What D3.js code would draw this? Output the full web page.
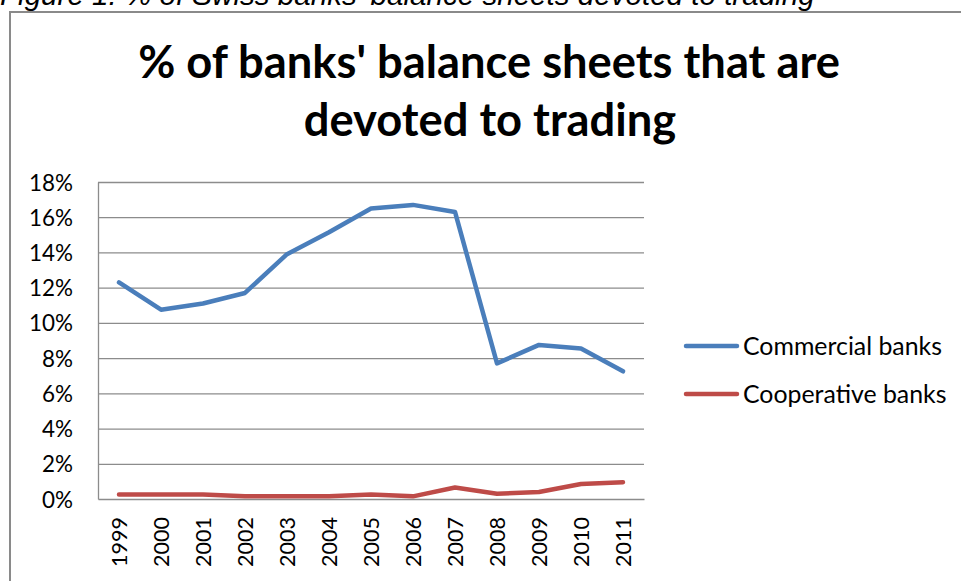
<!DOCTYPE html>
<html>
<head>
<meta charset="utf-8">
<script src="https://cdn.jsdelivr.net/npm/d3@7"></script>
<style>
  html, body { margin: 0; padding: 0; background: #fff; }
  svg { display: block; }
</style>
</head>
<body>
<svg id="chart" width="961" height="581"></svg>
<script>
// Share of balance sheets devoted to trading, by bank group
const years = ["1999","2000","2001","2002","2003","2004","2005","2006","2007","2008","2009","2010","2011"];
const commercialBanks = [12.3, 10.75, 11.1, 11.7, 13.9, 15.15, 16.5, 16.7, 16.3, 7.7, 8.75, 8.55, 7.25];
const cooperativeBanks = [0.25, 0.25, 0.25, 0.15, 0.15, 0.15, 0.25, 0.15, 0.65, 0.3, 0.4, 0.85, 0.95];
const yTicks = [0, 2, 4, 6, 8, 10, 12, 14, 16, 18];
const seriesNames = ["Commercial banks", "Cooperative banks"];
const seriesColors = ["#4A7EBB", "#BE4B48"];

const svg = d3.select("#chart");
const uiFont = "Lato, 'Open Sans', sans-serif";

// Set a text's font size so that it spans the given width; returns that size
function fitWidth(sel, width) {
  const node = sel.node();
  sel.attr("font-size", 100);
  const w = node.getComputedTextLength();
  const size = 100 * width / w;
  sel.attr("font-size", size);
  return size;
}

// Caption above the chart frame (partly cut off at the top edge)
const cap = svg.append("text")
  .attr("x", 0).attr("y", 5)
  .attr("font-family", "'Liberation Sans', Arial, sans-serif")
  .attr("font-style", "italic")
  .attr("fill", "#000")
  .text("Figure 1: % of Swiss banks' balance sheets devoted to trading");
fitWidth(cap, 815);

// Chart frame
svg.append("rect")
  .attr("x", 10).attr("y", 12)
  .attr("width", 980).attr("height", 600)
  .attr("fill", "none")
  .attr("stroke", "#8a8a8a")
  .attr("stroke-width", 2);

// Title
const t1 = svg.append("text")
  .attr("x", 489).attr("y", 78)
  .attr("text-anchor", "middle")
  .attr("font-family", uiFont).attr("font-weight", "bold")
  .attr("fill", "#000")
  .text("% of banks' balance sheets that are");
const titleSize = fitWidth(t1, 702);
svg.append("text")
  .attr("x", 490).attr("y", 136)
  .attr("text-anchor", "middle")
  .attr("font-family", uiFont).attr("font-weight", "bold")
  .attr("font-size", titleSize)
  .attr("fill", "#000")
  .text("devoted to trading");

// Plot area
const plot = { left: 98, right: 644, top: 182, bottom: 499 };

const x = d3.scaleBand()
  .domain(years)
  .range([plot.left, plot.right]);

const y = d3.scaleLinear()
  .domain([0, 18])
  .range([plot.bottom, plot.top]);

// Horizontal gridlines
svg.append("g")
  .selectAll("line")
  .data(yTicks.filter(d => d > 0))
  .join("line")
  .attr("x1", plot.left).attr("x2", plot.right)
  .attr("y1", d => y(d) + 0.5).attr("y2", d => y(d) + 0.5)
  .attr("stroke", "#8c8c8c")
  .attr("stroke-width", 1.3);

// Y axis
const yAxis = svg.append("g")
  .attr("transform", `translate(${plot.left},0)`)
  .call(d3.axisLeft(y).tickValues(yTicks).tickSize(0).tickPadding(25).tickFormat(d => d + "%"));
yAxis.select(".domain").attr("stroke", "#8c8c8c").attr("stroke-width", 1.3);
const yLabels = yAxis.selectAll("text")
  .attr("font-family", uiFont)
  .attr("fill", "#000")
  .attr("dy", "0.36em");
const yLabelSize = fitWidth(yLabels.filter(d => d === 18), 44);
yLabels.attr("font-size", yLabelSize);

// X axis
const xAxis = svg.append("g")
  .attr("transform", `translate(0,${plot.bottom})`)
  .call(d3.axisBottom(x).tickSize(0).tickPadding(0));
xAxis.select(".domain").attr("stroke", "#8c8c8c").attr("stroke-width", 1.3);
const xLabels = xAxis.selectAll("text")
  .attr("font-family", uiFont)
  .attr("fill", "#000")
  .attr("text-anchor", "end")
  .attr("transform", "rotate(-90)")
  .attr("x", -18)
  .attr("y", 0)
  .attr("dy", "0.36em");
const xLabelSize = fitWidth(xLabels.filter(d => d === "1999"), 50);
xLabels.attr("font-size", xLabelSize);

// Series lines
const line = d3.line()
  .x((d, i) => x(years[i]) + x.bandwidth() / 2)
  .y(d => y(d));

[commercialBanks, cooperativeBanks].forEach((vals, k) => {
  svg.append("path")
    .datum(vals)
    .attr("d", line)
    .attr("fill", "none")
    .attr("stroke", seriesColors[k])
    .attr("stroke-width", 4.5)
    .attr("stroke-linejoin", "round")
    .attr("stroke-linecap", "round");
});

// Legend
const legend = svg.append("g");
const legendTexts = [];
seriesNames.forEach((name, k) => {
  const ly = 346 + k * 48;
  legend.append("line")
    .attr("x1", 686).attr("x2", 737)
    .attr("y1", ly).attr("y2", ly)
    .attr("stroke", seriesColors[k])
    .attr("stroke-width", 4.5)
    .attr("stroke-linecap", "round");
  legendTexts.push(legend.append("text")
    .attr("x", 743).attr("y", ly)
    .attr("dy", "0.36em")
    .attr("font-family", uiFont)
    .attr("fill", "#000")
    .text(name));
});
const legendSize = fitWidth(legendTexts[0], 199);
legendTexts.forEach(t => t.attr("font-size", legendSize));
</script>
</body>
</html>
